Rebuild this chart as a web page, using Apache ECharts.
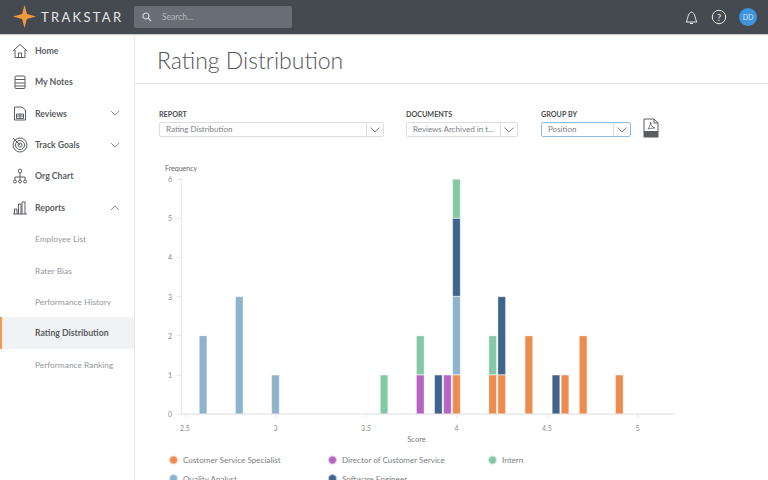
<!DOCTYPE html>
<html>
<head>
<meta charset="utf-8">
<title>Rating Distribution</title>
<script src="https://cdn.jsdelivr.net/npm/echarts@6/dist/echarts.min.js"></script>
<style>
html,body{margin:0;padding:0;width:768px;height:480px;overflow:hidden;background:#fff;font-family:Lato,"Noto Sans",sans-serif;color:#555}
.top{position:absolute;left:0;top:0;width:768px;height:34px;background:#454950;box-shadow:0 1px 1px rgba(0,0,0,.2)}
.brand{position:absolute;left:41px;top:8px;font-size:13px;letter-spacing:2.3px;color:#e6e7e8;line-height:18px}
.search{position:absolute;left:134px;top:6px;width:158px;height:22px;background:#696e76;border-radius:2px;color:#b5b8bc;font-size:8.5px;line-height:22px;text-indent:28px}
.side{position:absolute;left:0;top:35px;width:134px;height:445px;border-right:1px solid #e4e6ea}
.nav{position:absolute;left:35px;font-size:8.7px;font-weight:700;color:#5a5d62;line-height:12px;white-space:nowrap}
.sub{font-weight:400;color:#94979b;font-size:8.4px}
.active{position:absolute;left:0;top:317px;width:134px;height:32px;background:#f0f2f4;border-left:2px solid #f09a4a;box-sizing:border-box}
.title{position:absolute;left:157px;top:45px;font-size:23px;font-weight:300;color:#54575c;line-height:30px}
.rule{position:absolute;left:135px;top:83px;width:633px;height:1px;background:#e4e6ea}
.lab{position:absolute;top:110px;font-size:7.2px;font-weight:700;color:#4a4d52;line-height:10px}
.sel{position:absolute;top:122px;height:15px;box-sizing:border-box;border:1px solid #dcdee1;border-radius:2px;font-size:8px;color:#7b7e83;line-height:13px;padding-left:6px;white-space:nowrap;overflow:hidden}
.sel.on{border-color:#8fbfe6}
.arrow{position:absolute;right:0;top:0;width:16px;height:13px;border-left:1px solid #dcdee1}
.ico{position:absolute;fill:none;stroke:#5a5d62;stroke-width:1}
#chart{position:absolute;left:135px;top:150px;width:633px;height:350px}
</style>
</head>
<body>
<div class="top">
	<svg style="position:absolute;left:13px;top:5px" width="23" height="23" viewBox="0 0 24 24"><path d="M12 0 L14.5 9.5 L24 12 L14.5 14.5 L12 24 L9.5 14.5 L0 12 L9.5 9.5 Z" fill="#f09a3e"/></svg>
	<div class="brand">TRAKSTAR</div>
	<div class="search">Search...
		<svg style="position:absolute;left:8px;top:6px" width="10" height="10" viewBox="0 0 10 10"><circle cx="4" cy="4" r="3" fill="none" stroke="#d5d7da" stroke-width="1.2"/><path d="M6.2 6.2 L9 9" stroke="#d5d7da" stroke-width="1.2"/></svg>
	</div>
	<svg style="position:absolute;left:684px;top:9px" width="15" height="16" viewBox="0 0 15 16"><path d="M2 13 C4 11 3.5 4 7.5 3 C11.5 4 11 11 13 13 Z M6 14.5 H9" fill="none" stroke="#e8e9ea" stroke-width="1"/></svg>
	<svg style="position:absolute;left:711px;top:9px" width="16" height="16" viewBox="0 0 16 16"><circle cx="8" cy="8" r="6.7" fill="none" stroke="#e8e9ea" stroke-width="1"/><text x="8" y="11.5" font-size="10" text-anchor="middle" fill="#e8e9ea" font-family="Lato">?</text></svg>
	<svg style="position:absolute;left:739px;top:8px" width="18" height="18" viewBox="0 0 18 18"><circle cx="9" cy="9" r="9" fill="#3f94e0"/><text x="9" y="11.5" font-size="7" text-anchor="middle" fill="#cfe4f7" font-family="Lato">DD</text></svg>
</div>

<div class="side"></div>
<div class="active"></div>
<div class="nav" style="top:45px">Home</div>
<div class="nav" style="top:76px">My Notes</div>
<div class="nav" style="top:108px">Reviews</div>
<div class="nav" style="top:139px">Track Goals</div>
<div class="nav" style="top:170px">Org Chart</div>
<div class="nav" style="top:202px">Reports</div>
<div class="nav sub" style="top:233px">Employee List</div>
<div class="nav sub" style="top:265px">Rater Bias</div>
<div class="nav sub" style="top:296px">Performance History</div>
<div class="nav" style="top:327px">Rating Distribution</div>
<div class="nav sub" style="top:359px">Performance Ranking</div>

<!-- 侧边栏图标 -->
<svg class="ico" style="left:12px;top:43px" width="16" height="16" viewBox="0 0 16 16"><path d="M1 8 L8 1.5 L15 8 M3 7 V14.5 H13 V7 M6.5 14.5 V10 H9.5 V14.5"/></svg>
<svg class="ico" style="left:14px;top:75px" width="12" height="15" viewBox="0 0 12 15"><rect x="1" y="1" width="10" height="12.5" rx="1"/><path d="M1 4.5 H11 M1 8 H11 M1 11 H11"/></svg>
<svg class="ico" style="left:13px;top:106px" width="14" height="15" viewBox="0 0 14 15"><path d="M1.5 1 H9 L12.5 4 V14 H1.5 Z M3.5 8 H10.5 V12.5 H3.5 Z M3.5 10 H10.5 M7 8 V12.5"/></svg>
<svg class="ico" style="left:12px;top:137px" width="16" height="16" viewBox="0 0 16 16"><circle cx="8" cy="8" r="7"/><circle cx="8" cy="8" r="4.5"/><circle cx="8" cy="8" r="2"/><path d="M8 8 L1 1"/></svg>
<svg class="ico" style="left:12px;top:168px" width="16" height="16" viewBox="0 0 16 16"><circle cx="8" cy="3" r="1.8"/><path d="M8 5 V9 M3 12 V9 H13 V12 M8 9 V12"/><circle cx="3" cy="13.5" r="1.5"/><circle cx="8" cy="13.5" r="1.5"/><circle cx="13" cy="13.5" r="1.5"/></svg>
<svg class="ico" style="left:12px;top:200px" width="16" height="15" viewBox="0 0 16 15"><path d="M1 14 H15 M2.5 14 V9 H5 V14 M6.5 14 V4 H9 V14 M10 14 V2 H13 V14"/></svg>
<!-- 展开箭头 -->
<svg class="ico" style="left:110px;top:110px;stroke:#8a8d91" width="10" height="6" viewBox="0 0 10 6"><path d="M1 1 L5 5 L9 1"/></svg>
<svg class="ico" style="left:110px;top:142px;stroke:#8a8d91" width="10" height="6" viewBox="0 0 10 6"><path d="M1 1 L5 5 L9 1"/></svg>
<svg class="ico" style="left:110px;top:205px;stroke:#8a8d91" width="10" height="6" viewBox="0 0 10 6"><path d="M1 5 L5 1 L9 5"/></svg>

<div class="title">Rating Distribution</div>
<div class="rule"></div>

<div class="lab" style="left:159px">REPORT</div>
<div class="sel" style="left:159px;width:225px">Rating Distribution<div class="arrow"><svg style="position:absolute;left:3px;top:4px" width="10" height="6" viewBox="0 0 10 6"><path d="M0.5 0.5 L5 5 L9.5 0.5" fill="none" stroke="#7b7e83"/></svg></div></div>
<div class="lab" style="left:406px">DOCUMENTS</div>
<div class="sel" style="left:406px;width:112px">Reviews Archived in t...<div class="arrow" style="background:#fff"><svg style="position:absolute;left:3px;top:4px" width="10" height="6" viewBox="0 0 10 6"><path d="M0.5 0.5 L5 5 L9.5 0.5" fill="none" stroke="#7b7e83"/></svg></div></div>
<div class="lab" style="left:541px">GROUP BY</div>
<div class="sel on" style="left:541px;width:90px">Position<div class="arrow"><svg style="position:absolute;left:3px;top:4px" width="10" height="6" viewBox="0 0 10 6"><path d="M0.5 0.5 L5 5 L9.5 0.5" fill="none" stroke="#7b7e83"/></svg></div></div>
<svg class="ico" style="left:643px;top:118px" width="16" height="20" viewBox="0 0 16 20"><path d="M1 13 V1 H11 L15 5 V13 M11 1 V5 H15"/><path d="M5 11 C7 8 8 6 7.5 4 C7.5 7 9 9 12 10 C9 10 7 10.5 5 11 Z" stroke-width=".8"/><rect x="1" y="13.5" width="14" height="5.5" fill="#5a5d62"/></svg>

<div id="chart"></div>

<script>
// 图表数据 每个职位的人数与 scores 按下标对应
var scores =           [2.6,  2.8,  3,    3.6,  3.8,  3.9,  3.95, 4,    4.2,  4.25, 4.4,  4.55, 4.6,  4.7,  4.9];
var customerService =  [null, null, null, null, null, null, null, 1,    1,    1,    2,    null, 1,    2,    1];
var director =         [null, null, null, null, 1,    null, 1,    null, null, null, null, null, null, null, null];
var qualityAnalyst =   [2,    3,    1,    null, null, null, null, 2,    null, null, null, null, null, null, null];
var softwareEngineer = [null, null, null, null, null, 1,    null, 2,    null, 2,    null, 1,    null, null, null];
var intern =           [null, null, null, 1,    1,    null, null, 1,    1,    null, null, null, null, null, null];
var scoreTicks = [2.5, 3, 3.5, 4, 4.5, 5];

var axisGrey = '#e8e8ea';
var tickText = {color: '#8a8a8a', fontSize: 7, fontFamily: 'Lato'};
var legendText = {color: '#7c7f83', fontSize: 8.1, fontFamily: 'Lato'};

function barSeries(name, values, color){
	return {
		name: name,
		type: 'bar',
		stack: 'score',
		barWidth: 8,
		// 人数放第一维 否则 value 轴会把 x 当成堆叠维度
		encode: {x: 1, y: 0},
		data: scores.map(function(s, i){ return [values[i], s]; }),
		itemStyle: {color: color, borderColor: 'rgba(255,255,255,.6)', borderWidth: .5}
	}
}

function legendCol(left, names){
	return {
		orient: 'vertical',
		left: left,
		top: 304.5,
		padding: 0,
		itemGap: 7.5,
		itemWidth: 9,
		itemHeight: 9,
		icon: 'circle',
		selectedMode: false,
		textStyle: legendText,
		data: names
	}
}

var myChart = echarts.init(document.getElementById('chart'), null, {renderer: 'svg'});
myChart.setOption({
	animation: false,
	grid: {left: 46, top: 29, width: 493, height: 235},
	xAxis: {
		type: 'value',
		min: 2.478,
		max: 5.202,
		name: 'Score',
		nameLocation: 'middle',
		nameGap: 17,
		nameTextStyle: {color: '#777', fontSize: 7.5, fontFamily: 'Lato', padding: [0, 22, 0, 0]},
		splitLine: {show: false},
		axisLine: {lineStyle: {color: axisGrey, width: 1.5}},
		axisTick: {show: true, length: 4, lineStyle: {color: axisGrey}, customValues: scoreTicks},
		axisLabel: {customValues: scoreTicks, margin: 10, color: tickText.color, fontSize: tickText.fontSize, fontFamily: tickText.fontFamily}
	},
	yAxis: {
		type: 'value',
		min: 0,
		max: 6,
		interval: 1,
		name: 'Frequency',
		nameLocation: 'end',
		nameGap: 8,
		nameTextStyle: {color: '#666', fontSize: 7, fontFamily: 'Lato', align: 'left', padding: [0, 0, 0, -16]},
		splitLine: {show: false},
		axisLine: {show: true, lineStyle: {color: axisGrey, width: 1}},
		axisTick: {show: true, length: 4, lineStyle: {color: axisGrey}},
		axisLabel: {margin: 9, color: tickText.color, fontSize: tickText.fontSize, fontFamily: tickText.fontFamily}
	},
	legend: [
		legendCol(33, ['Customer Service Specialist', 'Quality Analyst']),
		legendCol(192, ['Director of Customer Service', 'Software Engineer']),
		legendCol(352, ['Intern'])
	],
	series: [
		barSeries('Customer Service Specialist', customerService, '#ec8c4f'),
		barSeries('Director of Customer Service', director, '#b566c4'),
		barSeries('Quality Analyst', qualityAnalyst, '#8db3cd'),
		barSeries('Software Engineer', softwareEngineer, '#3e668d'),
		barSeries('Intern', intern, '#84c8a6')
	]
});
</script>
</body>
</html>
